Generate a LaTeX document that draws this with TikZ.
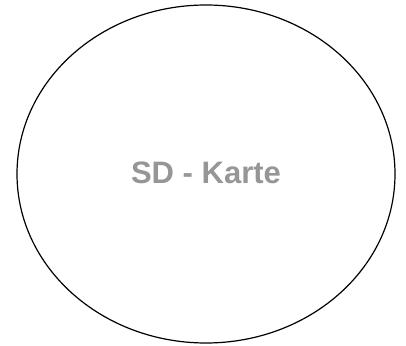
\documentclass[tikz,border=0pt]{standalone}
\usepackage{fontspec}
\setmainfont{Liberation Sans}
\usetikzlibrary{shapes.geometric}
\definecolor{labelgray}{RGB}{150,150,150}
\tikzset{
  card/.style={ellipse, draw=black, line width=1.2pt, minimum width=378pt, minimum height=338pt, inner sep=0pt},
  cardlabel/.style={text=labelgray, font=\fontsize{31}{36}\selectfont\bfseries}
}
\begin{document}
\begin{tikzpicture}[x=1pt,y=1pt]
\useasboundingbox (0,0) rectangle (406,345);
\node[card] (sd) at (206,171) {};
\node[cardlabel, anchor=base] (lbl) at (206,161) {SD - Karte};
\end{tikzpicture}
\end{document}
